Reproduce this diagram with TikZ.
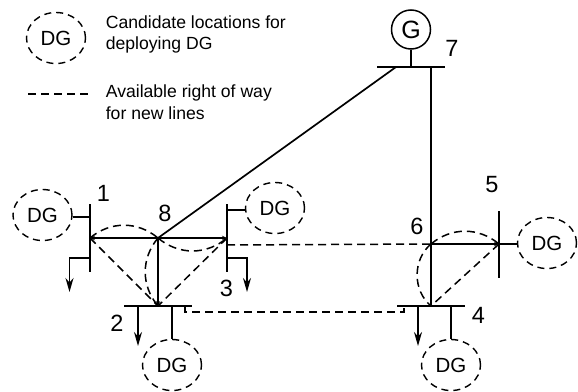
\documentclass[tikz,border=0pt]{standalone}
\usepackage{fontspec}
\setmainfont{Liberation Sans}
\usetikzlibrary{arrows.meta,shapes.geometric}
\tikzset{
  dgnode/.style={draw,ellipse,dash pattern=on 7pt off 5pt,line width=1.4pt,minimum width=59pt,minimum height=51pt,inner sep=0pt,font=\fontsize{20.5}{20.5}\selectfont},
  busline/.style={line width=1.8pt},
  newline/.style={dash pattern=on 8pt off 5pt,line width=1.5pt},
  load/.style={-{Stealth[length=14pt,width=8pt]}},
  flow/.style={-{Stealth[length=5pt,width=4.5pt]}},
  buslabel/.style={font=\fontsize{23.5}{23.5}\selectfont},
  legendtext/.style={align=left,anchor=west,inner sep=0pt,font=\fontsize{17.6}{21.5}\selectfont}
}
\begin{document}
\begin{tikzpicture}[x=1pt,y=-1pt,line width=1.7pt]
\useasboundingbox (0,0) rectangle (578,391);
% legend
\node[dgnode] (dgkey) at (56,38) {DG};
\node[legendtext] (keya) at (105,34.5) {Candidate locations for\\deploying DG};
\node[legendtext] (keyb) at (105,102) {Available right of way\\for new lines};
\coordinate (keyl) at (28,94);
\coordinate (keyr) at (91,94);
\draw[newline] (keyl) -- (keyr);
% buses
\foreach \name/\xa/\ya/\xb/\yb in {bus1/90/204/90/272,bus3/227/204/227/272,bus2/124/306/192/306,bus4/397/306/465/306,bus5/499/211/499/278,bus7/377/67/445/67}
  \draw[busline] (\xa,\ya) coordinate (\name a) -- (\xb,\yb) coordinate (\name b);
% generator
\node[draw,circle,line width=1.5pt,minimum size=39pt,inner sep=0pt,font=\fontsize{25}{25}\selectfont] (gen) at (411,29.5) {G};
\draw (gen.south) -- (gen.south |- bus7a);
% connection points
\coordinate (n8) at (158,238);
\coordinate (n6) at (431,244);
\coordinate (n1) at (90,238);
\coordinate (n3) at (227,238);
\coordinate (n2) at (158,306);
\coordinate (n4) at (431,306);
\coordinate (n5) at (499,244);
\coordinate (n7a) at (396,67);
\coordinate (n7b) at (431,67);
% lines
\draw (n7a) -- (n8);
\draw (n7b) -- (n4);
\draw[flow] (n8) -- (n1);
\draw[flow] (n8) -- (n3);
\draw[flow] (n8) -- (n2);
\draw[flow] (n6) -- (n5);
% new lines
\draw[newline] (n1) to[bend left=40] (n8);
\draw[newline] (n8) to[bend right=40] (n3);
\draw[newline] (n8) to[bend right=40] (n2);
\draw[newline] (n1) -- (n2);
\draw[newline] (n3) -- (n2);
\draw[newline] (n6) to[bend left=40] (n5);
\draw[newline] (n6) to[bend right=50] (n4);
\draw[newline] (n5) -- (n4);
\coordinate (n3d) at (227,245);
\draw[newline] (n3d) -- (n6);
\coordinate (n2d) at (185,306);
\coordinate (n4d) at (404,306);
\draw[newline] (n2d) |- (186,312) -- (404,312) -- (n4d);
% DG units
\foreach \name/\pos in {dg1/{42.5,215},dg3/{275,208},dg2/{172,365},dg4/{451,365},dg5/{547,243}}
  \node[dgnode] (\name) at (\pos) {DG};
\draw (dg1.east |- 0,217) -- (90,217);
\draw (dg3.west |- 0,210) -- (227,210);
\draw (dg2.north) -- (dg2.north |- bus2a);
\draw (dg4.north) -- (dg4.north |- bus4a);
\draw (dg5.west |- n5) -- (n5);
% loads
\draw[load] (90,258) -| (69.5,292);
\draw[load] (227,258) -| (247,292);
\draw[load] (138,306) -- (138,346);
\draw[load] (418,306) -- (418,346);
% bus numbers
\foreach \name/\txt/\pos in {lab1/1/{103.5,193},lab2/2/{117,323},lab3/3/{226.5,288},lab4/4/{478.5,315},lab5/5/{492,185},lab6/6/{417,226},lab7/7/{452,48},lab8/8/{165,213}}
  \node[buslabel] (\name) at (\pos) {\txt};
\end{tikzpicture}
\end{document}
